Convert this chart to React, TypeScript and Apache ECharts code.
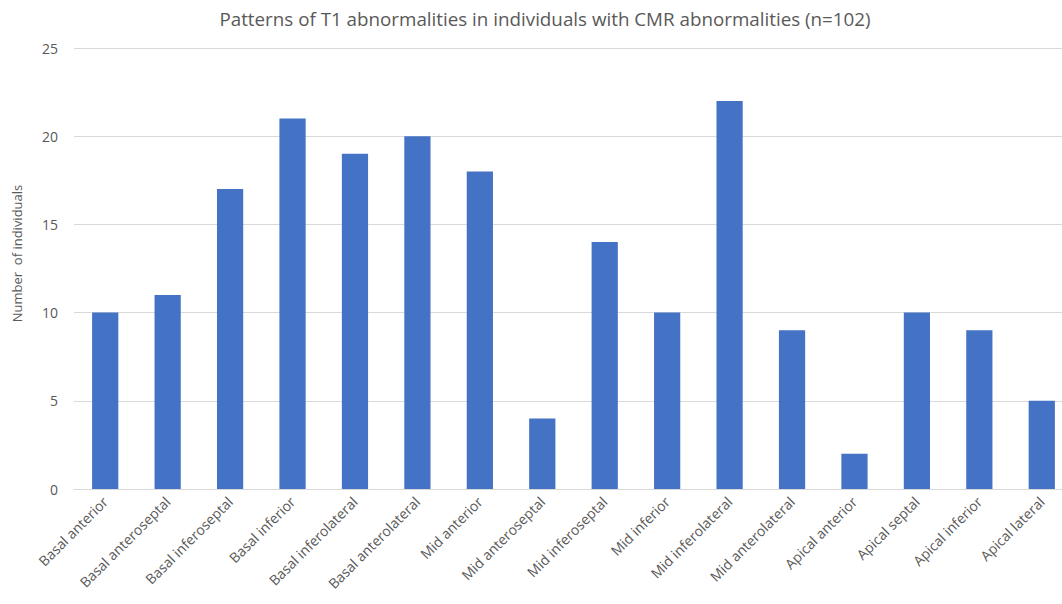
import React, { useEffect, useRef } from "react";
import * as echarts from "echarts";

const categories = [
  "Basal anterior",
  "Basal anteroseptal",
  "Basal inferoseptal",
  "Basal inferior",
  "Basal inferolateral",
  "Basal anterolateral",
  "Mid anterior",
  "Mid anteroseptal",
  "Mid inferoseptal",
  "Mid inferior",
  "Mid inferolateral",
  "Mid anterolateral",
  "Apical anterior",
  "Apical septal",
  "Apical inferior",
  "Apical lateral",
];
const counts = [10, 11, 17, 21, 19, 20, 18, 4, 14, 10, 22, 9, 2, 10, 9, 5];

const FONT = "'Open Sans', 'Noto Sans', sans-serif";

export default function App() {
  const ref = useRef<HTMLDivElement>(null);
  useEffect(() => {
    if (!ref.current) return;
    const chart = echarts.init(ref.current, undefined, { renderer: "svg" });
    chart.setOption({
      animation: false,
      backgroundColor: "#ffffff",
      title: {
        text: "Patterns of T1 abnormalities in individuals with CMR abnormalities (n=102)",
        left: 540,
        textAlign: "center",
        top: 4,
        textStyle: { fontFamily: FONT, fontSize: 18.8, fontWeight: "normal", color: "#595959" },
      },
      grid: {
        left: 74,
        width: 999,
        top: 48,
        bottom: 115,
        containLabel: false,
        outerBoundsMode: "none",
      },
      xAxis: {
        type: "category",
        data: categories,
        axisLine: { lineStyle: { color: "#d9d9d9" } },
        axisTick: { show: false },
        axisLabel: {
          rotate: 45,
          interval: 0,
          fontFamily: FONT,
          fontSize: 14,
          color: "#595959",
          margin: 10,
        },
      },
      yAxis: {
        type: "value",
        min: 0,
        max: 25,
        interval: 5,
        name: "Number  of individuals",
        nameLocation: "middle",
        nameGap: 51,
        nameTextStyle: { fontFamily: FONT, fontSize: 13, color: "#595959", padding: [0, 0, 0, 30] },
        axisLine: { show: false },
        axisTick: { show: false },
        axisLabel: { fontFamily: FONT, fontSize: 14, color: "#595959", margin: 16 },
        splitLine: { lineStyle: { color: "#d9d9d9" } },
      },
      series: [
        {
          type: "bar",
          data: counts,
          barWidth: "42%",
          itemStyle: { color: "#4472C4" },
        },
      ],
    });
    return () => chart.dispose();
  }, []);
  return (
    <div
      ref={ref}
      style={{ position: "fixed", left: 0, top: 0, width: 1062, height: 604 }}
    />
  );
}
